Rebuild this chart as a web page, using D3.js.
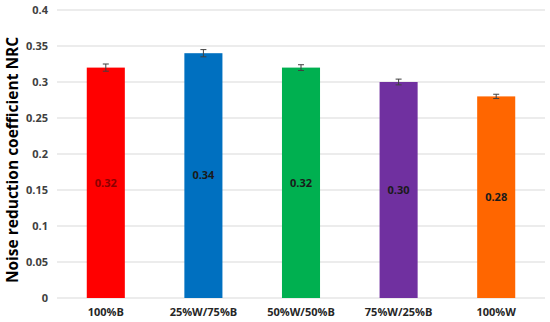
<!DOCTYPE html>
<html><head><meta charset="utf-8">
<script src="https://cdn.jsdelivr.net/npm/d3@7"></script>
<style>body{margin:0;background:#fff}svg{display:block}text{font-family:"Open Sans","DejaVu Sans",sans-serif}</style>
</head><body><svg id="c" width="550" height="322"></svg>
<script>
const categories = ["100%B","25%W/75%B","50%W/50%B","75%W/25%B","100%W"];
const values = [0.32,0.34,0.32,0.30,0.28];
const errors = [0.005,0.005,0.004,0.004,0.003];
const labels = ["0.32","0.34","0.32","0.30","0.28"];
const colors = ["#FF0000","#0070C0","#00B050","#7030A0","#FF6600"];
const yTicks = [0,0.05,0.1,0.15,0.2,0.25,0.3,0.35,0.4];
const yTickLabels = ["0","0.05","0.1","0.15","0.2","0.25","0.3","0.35","0.4"];

const svg = d3.select("#c");
const x = d3.scaleBand().domain(categories).range([57,545]).paddingInner(0.61).paddingOuter(0.305);
const y = d3.scaleLinear().domain([0,0.4]).range([298,10]);

svg.append("g").selectAll("line").data(yTicks).join("line")
  .attr("x1",57).attr("x2",545).attr("y1",d=>y(d)).attr("y2",d=>y(d))
  .attr("stroke","#d9d9d9").attr("stroke-width",1);

const yAxis = d3.axisLeft(y).tickValues(yTicks).tickFormat((d,i)=>yTickLabels[i]).tickSize(0).tickPadding(9);
const ya = svg.append("g").attr("transform","translate(57,0)").call(yAxis);
ya.select(".domain").remove();
ya.selectAll("text").attr("font-size",11).attr("font-weight","bold").attr("fill","#404040");

const xAxis = d3.axisBottom(x).tickSize(0).tickPadding(10);
const xa = svg.append("g").attr("transform","translate(0,298)").call(xAxis);
xa.select(".domain").remove();
xa.selectAll("text").attr("font-size",11).attr("font-weight","bold").attr("fill","#262626");

svg.append("g").selectAll("rect").data(values).join("rect")
  .attr("x",(d,i)=>x(categories[i])).attr("width",x.bandwidth())
  .attr("y",d=>y(d)).attr("height",d=>y(0)-y(d))
  .attr("fill",(d,i)=>colors[i]);

const eb = svg.append("g").attr("stroke","#404040").attr("stroke-width",1);
values.forEach((v,i)=>{
  const cx = x(categories[i])+x.bandwidth()/2;
  eb.append("line").attr("x1",cx).attr("x2",cx).attr("y1",y(v+errors[i])).attr("y2",y(v-errors[i]));
  eb.append("line").attr("x1",cx-3).attr("x2",cx+3).attr("y1",y(v+errors[i])).attr("y2",y(v+errors[i]));
  eb.append("line").attr("x1",cx-3).attr("x2",cx+3).attr("y1",y(v-errors[i])).attr("y2",y(v-errors[i]));
});

svg.append("g").selectAll("text").data(values).join("text")
  .attr("x",(d,i)=>x(categories[i])+x.bandwidth()/2).attr("y",d=>y(d/2))
  .attr("dy","0.35em").attr("text-anchor","middle")
  .attr("font-size",11).attr("font-weight","bold")
  .attr("fill",(d,i)=>i===0?"#8B0000":"#1a1a1a")
  .text((d,i)=>labels[i]);

svg.append("text").attr("transform","translate(18,160) rotate(-90)")
  .attr("text-anchor","middle").attr("font-size",15.5).attr("font-weight","bold").attr("fill","#000")
  .text("Noise reduction coefficient NRC");
</script></body></html>
